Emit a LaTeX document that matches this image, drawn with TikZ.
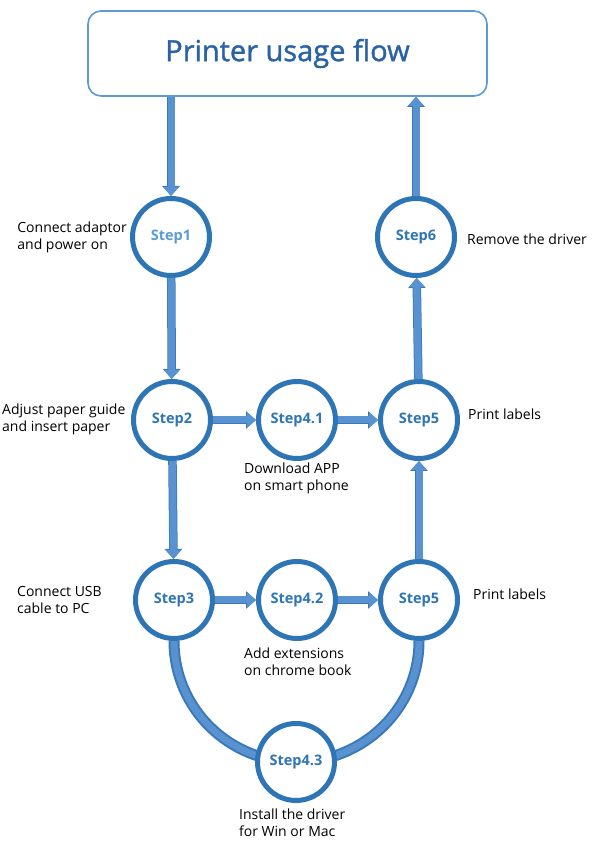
\documentclass[tikz,border=0pt]{standalone}
\usepackage{fontspec}
\setmainfont{Open Sans}
\newfontfamily\titlefont[FakeBold=1.3]{Open Sans}
\usetikzlibrary{arrows.meta,positioning,backgrounds}
\definecolor{stepblue}{HTML}{2E75B6}
\definecolor{paleblue}{HTML}{5B9BD5}
\definecolor{arrowblue}{HTML}{5892D0}
\definecolor{arrowedge}{HTML}{3A78B8}
\definecolor{titleblue}{HTML}{2A63A4}
\tikzset{
  stepnode/.style={circle, draw=stepblue, line width=5pt, fill=white,
    minimum size=77pt, inner sep=0pt, text=stepblue,
    font=\fontsize{14.5}{16}\selectfont\bfseries},
  note/.style={align=left, inner sep=0pt, font=\fontsize{14}{17}\selectfont},
  flowarrow/.style={draw=arrowblue, line width=7pt,
    -{Triangle[width=15pt,length=9pt]},
    preaction={draw=arrowedge, line width=8.5pt,
      -{Triangle[width=17pt,length=10pt]}}},
  ringline/.style={draw=arrowedge, line width=2pt,
    double=arrowblue, double distance=7pt}
}
\begin{document}
\begin{tikzpicture}[x=1pt,y=1pt]
  \useasboundingbox (0,0) rectangle (593,846);
  % title box
  \node[draw=paleblue, line width=1.6pt, rounded corners=13pt,
        minimum width=399pt, minimum height=85pt, text=titleblue,
        font=\titlefont\fontsize{29}{32}\selectfont] (title) at (287.5,792.5)
        {Printer usage flow};
  % step circles
  \node[stepnode, text=paleblue] (step1) at (171,609) {Step1};
  \node[stepnode] (step6) at (416,609) {Step6};
  \node[stepnode] (step2) at (172,426) {Step2};
  \node[stepnode] (step41) at (297,426) {Step4.1};
  \node[stepnode] (step5a) at (419,426) {Step5};
  \node[stepnode] (step3) at (174,246) {Step3};
  \node[stepnode] (step42) at (297,246) {Step4.2};
  \node[stepnode] (step5b) at (419,246) {Step5};
  \node[stepnode] (step43) at (296,84) {Step4.3};
  % texts beside the circles
  \node[note, left=3pt of step1] (connect) {Connect adaptor\\and power on};
  \node[note, anchor=west] (adjust) at (2,427) {Adjust paper guide\\and insert paper};
  \node[note, anchor=west] (usb) at (17,246) {Connect USB\\cable to PC};
  \node[note, anchor=west] (download) at (244,368) {Download APP\\on smart phone};
  \node[note, anchor=west] (extend) at (244,184) {Add extensions\\on chrome book};
  \node[note, anchor=west] (install) at (239,23) {Install the driver\\for Win or Mac};
  \node[note, anchor=west] (remove) at (467,607) {Remove the driver};
  \node[note, anchor=west] (printa) at (468,432) {Print labels};
  \node[note, anchor=west] (printb) at (473,252) {Print labels};
  % arrows
  \draw[flowarrow] (step1 |- title.south) -- (step1);
  \draw[flowarrow] (step1) -- (step2);
  \draw[flowarrow] (step2) -- (step3);
  \draw[flowarrow] (step2) -- (step41);
  \draw[flowarrow] (step41) -- (step5a);
  \draw[flowarrow] (step3) -- (step42);
  \draw[flowarrow] (step42) -- (step5b);
  \draw[flowarrow] (step5b) -- (step5a);
  \draw[flowarrow] (step5a) -- (step6);
  \draw[flowarrow] (step6) -- (step6 |- title.south);
  % the bow under step3 and step5
  \begin{scope}[on background layer]
    \draw[ringline] (step3.south) to[out=-90, in=180] (step43.center)
                    to[out=0, in=-90] (step5b.south);
  \end{scope}
\end{tikzpicture}
\end{document}
